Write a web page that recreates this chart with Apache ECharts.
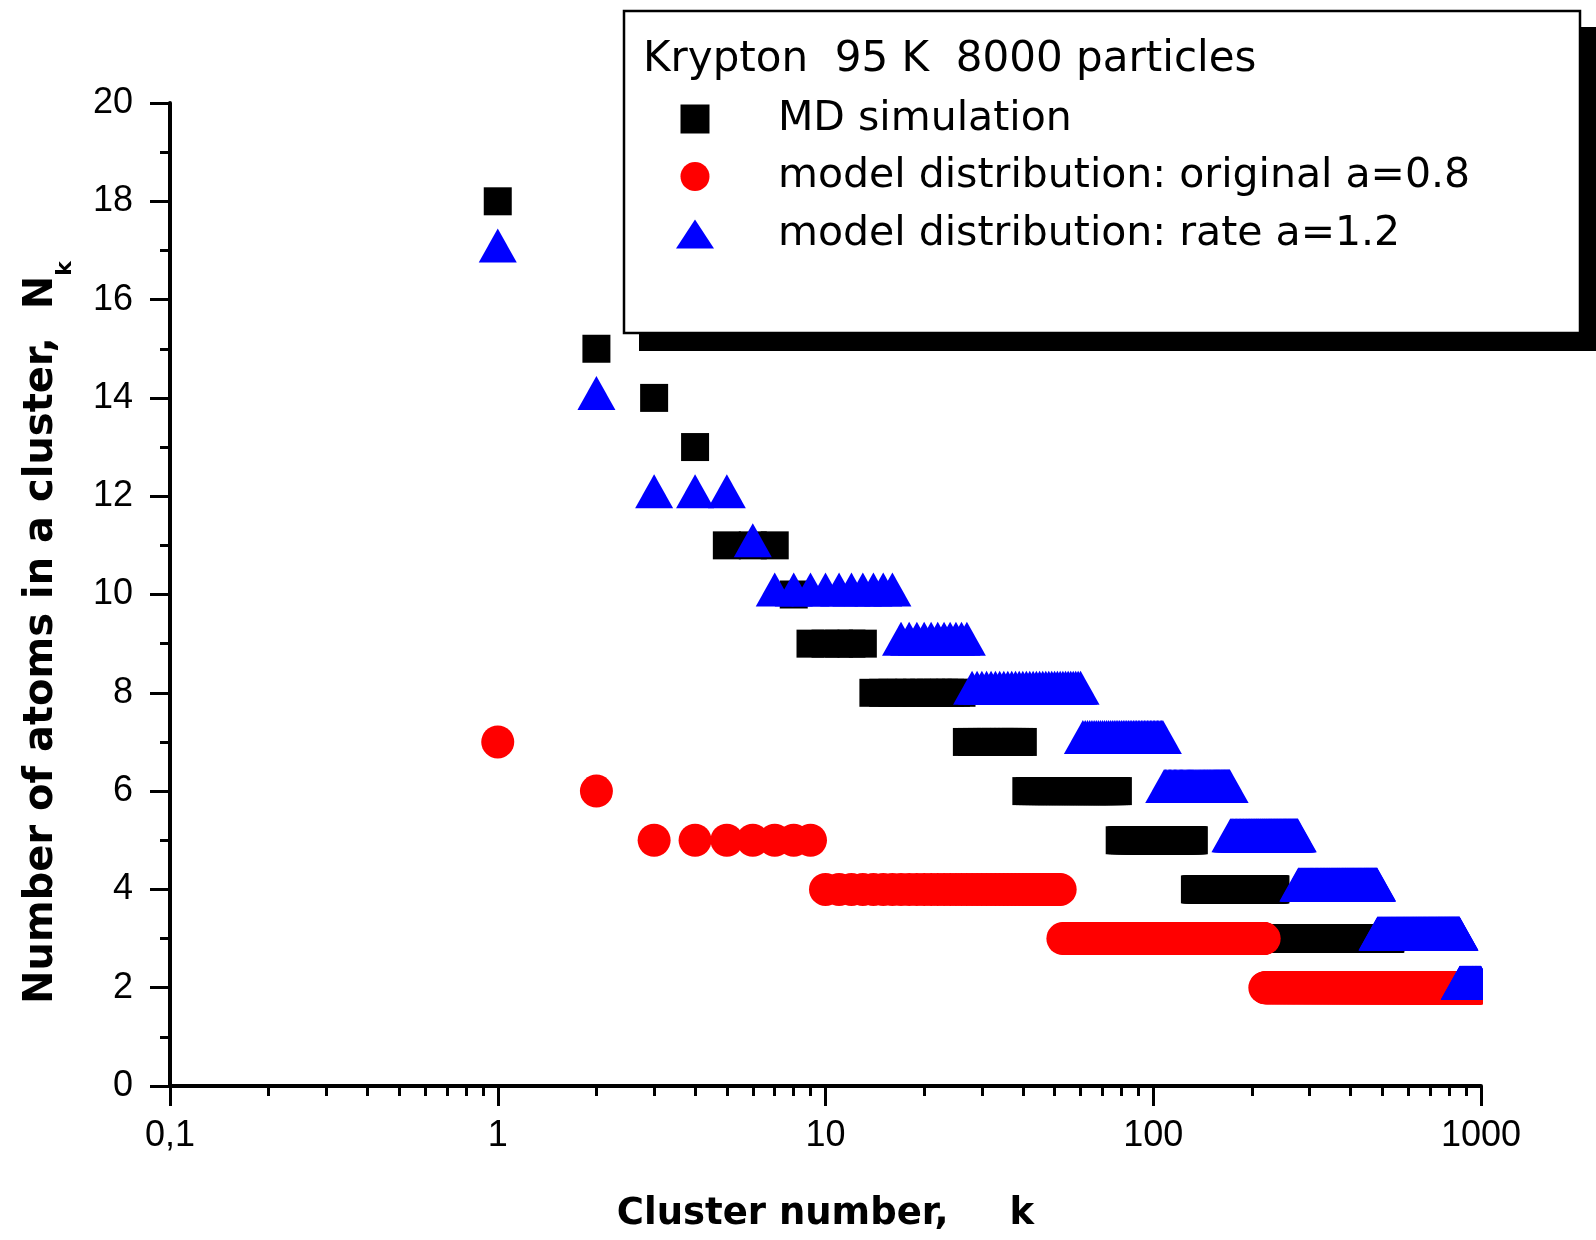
<!DOCTYPE html>
<html lang="en">
<head>
    <meta charset="UTF-8">
    <title>Krypton 95 K clusters</title>
    <script src="https://cdn.jsdelivr.net/npm/echarts@6.0.0/dist/echarts.min.js"></script>
    <style>
        html, body { margin: 0; padding: 0; background: #fff; }
        #myChart { width: 1596px; height: 1240px; }
    </style>
</head>
<body>
    <div id="myChart"></div>
    <script>
        // step runs: [first k, last k, N_k]
        var mdRuns = [
            [1, 1, 18], [2, 2, 15], [3, 3, 14], [4, 4, 13], [5, 7, 11], [8, 8, 10],
            [9, 13, 9], [14, 26, 8], [27, 40, 7], [41, 78, 6], [79, 133, 5],
            [134, 236, 4], [237, 529, 3], [530, 1000, 2]
        ];
        var originalRuns = [
            [1, 1, 7], [2, 2, 6], [3, 9, 5], [10, 52, 4], [53, 218, 3], [219, 1000, 2]
        ];
        var rateRuns = [
            [1, 1, 17], [2, 2, 14], [3, 5, 12], [6, 6, 11], [7, 16, 10], [17, 27, 9],
            [28, 60, 8], [61, 107, 7], [108, 171, 6], [172, 276, 5], [277, 482, 4],
            [483, 860, 3], [861, 1000, 2]
        ];
        var seriesNames = [
            'MD simulation',
            'model distribution: original a=0.8',
            'model distribution: rate a=1.2'
        ];
        var legendTitle = 'Krypton  95 K  8000 particles';
        var xMinorTicks = [
            0.2, 0.3, 0.4, 0.5, 0.6, 0.7, 0.8, 0.9,
            2, 3, 4, 5, 6, 7, 8, 9,
            20, 30, 40, 50, 60, 70, 80, 90,
            200, 300, 400, 500, 600, 700, 800, 900
        ];

        // one point per cluster number k
        function expand(runs) {
            var pts = [];
            runs.forEach(function (r) {
                for (var k = r[0]; k <= r[1]; k++) pts.push([k, r[2]]);
            });
            return pts;
        }

        var myChart = echarts.init(document.getElementById('myChart'));

        var option = {
            animation: false,
            backgroundColor: '#fff',
            grid: { left: 170, right: 115, top: 103, bottom: 154, containLabel: false, outerBoundsMode: 'none' },
            graphic: [
                // legend frame with its drop shadow
                { type: 'rect', z: 1, shape: { x: 639, y: 27, width: 960, height: 324 }, style: { fill: '#000' } },
                { type: 'rect', z: 2, shape: { x: 624, y: 11, width: 956, height: 322 },
                  style: { fill: '#fff', stroke: '#000', lineWidth: 2.5 } },
                { type: 'text', z: 3,
                  style: { x: 643, y: 60, text: legendTitle, fontFamily: 'DejaVu Sans', fontSize: 42,
                           fill: '#000', verticalAlign: 'middle' } },
                // scatter symbols are not clipped at the axis end, so blank the strip right of the plot
                { type: 'rect', z: 10, shape: { x: 1483, y: 352, width: 113, height: 728 }, style: { fill: '#fff' } }
            ],
            legend: {
                orient: 'vertical',
                left: 676,
                top: 97,
                padding: 0,
                itemWidth: 38,
                itemHeight: 29,
                itemGap: 13.5,
                selectedMode: false,
                symbolKeepAspect: true,
                data: [
                    { name: seriesNames[0], icon: 'path://M0 0H10V10H0Z' },
                    { name: seriesNames[1] },
                    { name: seriesNames[2] }
                ],
                textStyle: { fontFamily: 'DejaVu Sans', fontSize: 41, color: '#000', lineHeight: 44, padding: [0, 0, 0, 59] }
            },
            xAxis: [
                {
                    type: 'log', logBase: 10, min: 0.1, max: 1000, position: 'bottom',
                    name: '{a|Cluster number,}{s| }{a|k}',
                    nameLocation: 'middle',
                    nameGap: 110,
                    nameTextStyle: {
                        rich: {
                            a: { fontFamily: 'DejaVu Sans', fontWeight: 'bold', fontSize: 37, lineHeight: 37, color: '#000' },
                            s: { width: 61, fontSize: 37, lineHeight: 37 }
                        }
                    },
                    axisLine: { show: true, onZero: false, lineStyle: { color: '#000', width: 4 } },
                    axisTick: { show: true, inside: false, length: 20, lineStyle: { color: '#000', width: 3 } },
                    axisLabel: {
                        margin: 32, color: '#000', fontFamily: 'Liberation Sans', fontSize: 36,
                        formatter: function (v) { return String(v).replace('.', ','); }
                    },
                    splitLine: { show: false }
                },
                {
                    // minor ticks between decades
                    type: 'log', logBase: 10, min: 0.1, max: 1000, position: 'bottom',
                    axisLine: { show: false },
                    axisLabel: { show: false },
                    splitLine: { show: false },
                    axisTick: { show: true, inside: false, length: 10, customValues: xMinorTicks,
                                lineStyle: { color: '#000', width: 3 } }
                }
            ],
            yAxis: {
                type: 'value', min: 0, max: 20, interval: 2,
                name: '{a|Number of atoms in a cluster,  N}{b|k}',
                nameLocation: 'middle',
                nameGap: 94,
                nameTextStyle: {
                    padding: [0, 76, 0, 0],
                    rich: {
                        a: { fontFamily: 'DejaVu Sans', fontWeight: 'bold', fontSize: 40, lineHeight: 68, color: '#000' },
                        b: { fontFamily: 'DejaVu Sans', fontWeight: 'bold', fontSize: 22, lineHeight: 22,
                             verticalAlign: 'bottom', color: '#000' }
                    }
                },
                axisLine: { show: true, onZero: false, lineStyle: { color: '#000', width: 4 } },
                axisTick: { show: true, inside: false, length: 20, lineStyle: { color: '#000', width: 3 } },
                minorTick: { show: true, splitNumber: 2, length: 10, lineStyle: { color: '#000', width: 3 } },
                axisLabel: { margin: 37, color: '#000', fontFamily: 'Liberation Sans', fontSize: 36, padding: [0, 0, 6, 0] },
                splitLine: { show: false }
            },
            series: [
                {
                    name: seriesNames[0], type: 'scatter', xAxisIndex: 0,
                    data: expand(mdRuns),
                    symbol: 'rect', symbolSize: 28,
                    itemStyle: { color: '#000', opacity: 1 }
                },
                {
                    name: seriesNames[1], type: 'scatter', xAxisIndex: 0,
                    data: expand(originalRuns),
                    symbol: 'circle', symbolSize: 33,
                    itemStyle: { color: '#ff0000', opacity: 1 }
                },
                {
                    name: seriesNames[2], type: 'scatter', xAxisIndex: 0,
                    data: expand(rateRuns),
                    symbol: 'triangle', symbolSize: [38, 34], symbolOffset: [0, -5],
                    itemStyle: { color: '#0000ff', opacity: 1 }
                }
            ]
        };

        myChart.setOption(option);
    </script>
</body>
</html>
